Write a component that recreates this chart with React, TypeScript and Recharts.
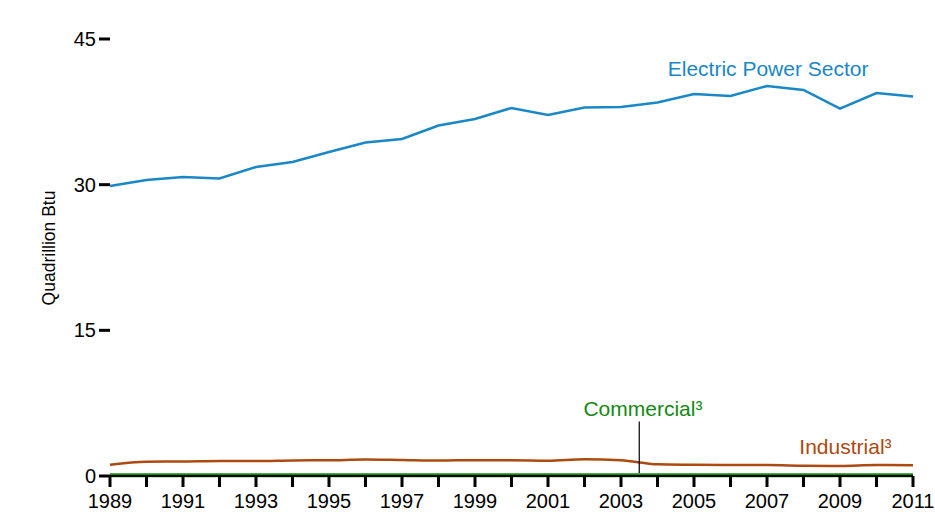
import React from "react";
import { LineChart, Line, XAxis, YAxis, ReferenceLine, ReferenceDot, Label } from "recharts";

const BLUE = "#1a87c6";
const BROWN = "#ac4a12";
const GREEN = "#138a12";
const FONT = "'Liberation Sans', Arial, sans-serif";

const years = [
  1989, 1990, 1991, 1992, 1993, 1994, 1995, 1996, 1997, 1998, 1999, 2000,
  2001, 2002, 2003, 2004, 2005, 2006, 2007, 2008, 2009, 2010, 2011,
];
const electric = [
  29.86, 30.48, 30.79, 30.64, 31.82, 32.33, 33.36, 34.34, 34.7, 36.09, 36.76, 37.9,
  37.17, 37.95, 38.0, 38.46, 39.34, 39.13, 40.16, 39.75, 37.84, 39.44, 39.08,
];
const industrial = [
  1.16, 1.47, 1.49, 1.54, 1.54, 1.6, 1.62, 1.7, 1.65, 1.6, 1.62, 1.62,
  1.58, 1.72, 1.62, 1.2, 1.16, 1.13, 1.13, 1.06, 1.03, 1.13, 1.1,
];
const commercial = [
  0.09, 0.09, 0.09, 0.09, 0.09, 0.09, 0.09, 0.09, 0.09, 0.09, 0.09, 0.09,
  0.09, 0.09, 0.09, 0.09, 0.09, 0.09, 0.09, 0.09, 0.09, 0.09, 0.09,
];
const yTicks = [0, 15, 30, 45];

const data = years.map((y, i) => ({
  year: y,
  electric: electric[i],
  industrial: industrial[i],
  commercial: commercial[i],
}));

function note(text: string, color: string) {
  return (props: any) => {
    const { x, y } = props.viewBox;
    return (
      <text x={x} y={y} textAnchor="middle" fill={color} fontSize={21} fontFamily={FONT}>
        {text}
      </text>
    );
  };
}

export default function App() {
  return (
    <div style={{ position: "fixed", left: 0, top: 0, width: 935, height: 512, background: "#fff" }}>
      <LineChart width={935} height={512} data={data} margin={{ top: 39, right: 22, bottom: 0, left: 0 }}>
        <XAxis
          dataKey="year"
          type="number"
          domain={[1989, 2011]}
          ticks={years}
          interval={0}
          tickFormatter={(v: number) => (v % 2 === 1 ? String(v) : "")}
          height={36}
          tickSize={11}
          tickMargin={7}
          axisLine={{ stroke: "#000", strokeWidth: 2 }}
          tickLine={{ stroke: "#000", strokeWidth: 3 }}
          tick={{ fill: "#000", fontSize: 20, fontFamily: FONT }}
        />
        <YAxis
          type="number"
          domain={[0, 45]}
          ticks={yTicks}
          width={110}
          tickSize={11}
          tickMargin={3}
          axisLine={false}
          tickLine={{ stroke: "#000", strokeWidth: 3 }}
          tick={{ fill: "#000", fontSize: 20, fontFamily: FONT }}
        >
          <Label
            content={() => (
              <text
                x={49}
                y={248}
                transform="rotate(-90 49 248)"
                textAnchor="middle"
                dominantBaseline="central"
                fill="#000"
                fontSize={17.5}
                fontFamily={FONT}
              >
                Quadrillion Btu
              </text>
            )}
          />
        </YAxis>
        <Line type="linear" dataKey="electric" stroke={BLUE} strokeWidth={2.5} dot={false} isAnimationActive={false} />
        <Line type="monotone" dataKey="industrial" stroke={BROWN} strokeWidth={2.5} dot={false} isAnimationActive={false} />
        <Line type="linear" dataKey="commercial" stroke={GREEN} strokeWidth={4} dot={false} isAnimationActive={false} />
        <ReferenceLine
          segment={[
            { x: 2003.5, y: 5.6 },
            { x: 2003.5, y: 0.3 },
          ]}
          stroke="#000"
          strokeWidth={1.2}
        />
        <ReferenceDot x={2007.03} y={41.2} r={0} fill="none" stroke="none" label={{ content: note("Electric Power Sector", BLUE) } as any} />
        <ReferenceDot x={2003.6} y={6.2} r={0} fill="none" stroke="none" label={{ content: note("Commercial³", GREEN) } as any} />
        <ReferenceDot x={2009.15} y={2.3} r={0} fill="none" stroke="none" label={{ content: note("Industrial³", BROWN) } as any} />
      </LineChart>
    </div>
  );
}
